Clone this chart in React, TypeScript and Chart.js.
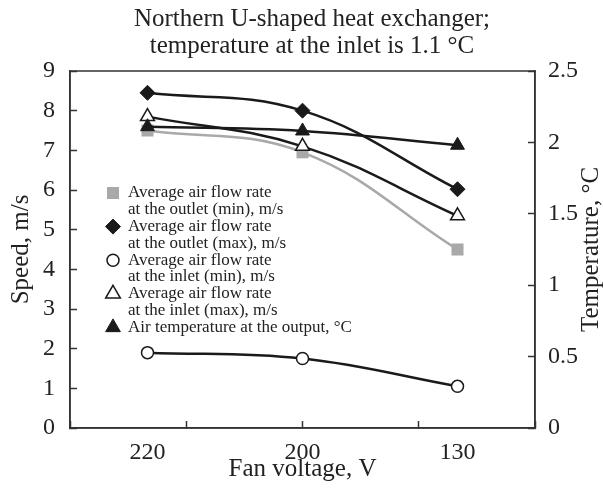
import React, { useEffect, useRef } from 'react';
import { Chart, registerables } from 'chart.js';
import { drawPoint } from 'chart.js/helpers';

Chart.register(...registerables);

// ---- data ----
const categories = ['220', '200', '130'];
const outletMin = [7.5, 6.95, 4.5];
const outletMax = [8.45, 8.0, 6.02];
const inletMin = [1.9, 1.75, 1.05];
const inletMax = [7.85, 7.1, 5.35];
const airTemp = [2.11, 2.08, 1.98];

const titleLines = ['Northern U-shaped heat exchanger;', 'temperature at the inlet is 1.1 °C'];
const xAxisTitle = 'Fan voltage, V';
const yLeftTitle = 'Speed, m/s';
const yRightTitle = 'Temperature, °C';
const xTickPositions = [0.5, 1, 1.25, 2, 2.75, 3, 3.5];

const labelOutletMin = ['Average air flow rate', 'at the outlet (min), m/s'];
const labelOutletMax = ['Average air flow rate', 'at the outlet (max), m/s'];
const labelInletMin = ['Average air flow rate', 'at the inlet (min), m/s'];
const labelInletMax = ['Average air flow rate', 'at the inlet (max), m/s'];
const labelAirTemp = ['Air temperature at the output, °C'];

const FONT = "'Liberation Serif', 'DejaVu Serif', serif";
const INK = '#222';
const AXIS = '#333';

const toPts = (arr: number[]) => arr.map((v, i) => ({ x: i + 1, y: v }));

const customPlugin = {
  id: 'custom',
  beforeDatasetsDraw(chart: any) {
    const { ctx, chartArea } = chart;
    ctx.save();
    ctx.strokeStyle = AXIS;
    ctx.lineWidth = 1.5;
    ctx.strokeRect(chartArea.left, chartArea.top, chartArea.right - chartArea.left, chartArea.bottom - chartArea.top);
    ctx.restore();
  },
  afterDraw(chart: any) {
    const { ctx, chartArea } = chart;
    ctx.save();
    ctx.fillStyle = INK;
    // title
    ctx.font = `25px ${FONT}`;
    ctx.textAlign = 'center';
    ctx.textBaseline = 'middle';
    titleLines.forEach((t, i) => ctx.fillText(t, 312, 19 + i * 27));
    // right axis title (reads bottom to top)
    ctx.save();
    ctx.translate(591, (chartArea.top + chartArea.bottom) / 2);
    ctx.rotate(-Math.PI / 2);
    ctx.fillText(yRightTitle, 0, 0);
    ctx.restore();
    // legend
    ctx.font = `17px ${FONT}`;
    ctx.textAlign = 'left';
    const mx = chartArea.left + 43;
    const tx = chartArea.left + 58;
    let y = chartArea.top + 122;
    const lineH = 16.8;
    chart.data.datasets.forEach((ds: any) => {
      ctx.save();
      ctx.fillStyle = ds.pointBackgroundColor;
      ctx.strokeStyle = ds.pointBorderColor;
      ctx.lineWidth = ds.pointBorderWidth;
      drawPoint(ctx, {
        pointStyle: ds.pointStyle,
        radius: ds.legendRadius,
        rotation: 0,
        borderWidth: ds.pointBorderWidth,
      } as any, mx, y);
      ctx.restore();
      ctx.fillStyle = INK;
      ds.legendText.forEach((line: string, i: number) => ctx.fillText(line, tx, y + i * lineH));
      y += ds.legendText.length * lineH;
    });
    ctx.restore();
  },
};

export default function App() {
  const ref = useRef<HTMLCanvasElement | null>(null);
  useEffect(() => {
    document.body.style.margin = '0';
    const black = '#1a1a1a';
    const gray = '#a9a9a9';
    const chart = new Chart(ref.current as HTMLCanvasElement, {
      type: 'line',
      data: {
        datasets: [
          {
            label: labelOutletMin.join(' '),
            legendText: labelOutletMin,
            data: toPts(outletMin),
            yAxisID: 'y',
            borderColor: gray,
            borderWidth: 2.5,
            tension: 0.4,
            pointStyle: 'rect',
            pointRadius: 8.5,
            legendRadius: 8.5,
            pointBackgroundColor: gray,
            pointBorderColor: gray,
            pointBorderWidth: 0,
            order: 5,
          },
          {
            label: labelOutletMax.join(' '),
            legendText: labelOutletMax,
            data: toPts(outletMax),
            yAxisID: 'y',
            borderColor: black,
            borderWidth: 2.5,
            tension: 0.4,
            pointStyle: 'rectRot',
            pointRadius: 7.5,
            legendRadius: 7.5,
            pointBackgroundColor: black,
            pointBorderColor: black,
            pointBorderWidth: 1,
            order: 2,
          },
          {
            label: labelInletMin.join(' '),
            legendText: labelInletMin,
            data: toPts(inletMin),
            yAxisID: 'y',
            borderColor: black,
            borderWidth: 2.5,
            tension: 0.4,
            pointStyle: 'circle',
            pointRadius: 6,
            legendRadius: 6,
            pointBackgroundColor: '#ffffff',
            pointBorderColor: black,
            pointBorderWidth: 1.5,
            order: 4,
          },
          {
            label: labelInletMax.join(' '),
            legendText: labelInletMax,
            data: toPts(inletMax),
            yAxisID: 'y',
            borderColor: black,
            borderWidth: 2.5,
            tension: 0.4,
            pointStyle: 'triangle',
            pointRadius: 8,
            legendRadius: 8.5,
            pointBackgroundColor: '#ffffff',
            pointBorderColor: black,
            pointBorderWidth: 1.5,
            order: 3,
          },
          {
            label: labelAirTemp.join(' '),
            legendText: labelAirTemp,
            data: toPts(airTemp),
            yAxisID: 'y1',
            borderColor: black,
            borderWidth: 2.5,
            tension: 0.4,
            pointStyle: 'triangle',
            pointRadius: 8,
            legendRadius: 8.5,
            pointBackgroundColor: black,
            pointBorderColor: black,
            pointBorderWidth: 1,
            order: 1,
          },
        ] as any,
      },
      options: {
        animation: false,
        responsive: true,
        maintainAspectRatio: false,
        layout: { padding: { top: 71, left: 0, right: 0, bottom: 0 } },
        plugins: {
          legend: { display: false },
          tooltip: { enabled: false },
          title: { display: false },
        },
        scales: {
          x: {
            type: 'linear',
            min: 0.5,
            max: 3.5,
            afterBuildTicks: (scale: any) => {
              scale.ticks = xTickPositions.map((v) => ({ value: v }));
            },
            afterFit: (scale: any) => {
              scale.height = 60;
            },
            ticks: {
              autoSkip: false,
              maxRotation: 0,
              padding: 17,
              color: INK,
              font: { family: FONT, size: 24 },
              callback: (v: any) => {
                const n = Number(v);
                return Number.isInteger(n) && categories[n - 1] !== undefined ? categories[n - 1] : '';
              },
            },
            grid: {
              drawOnChartArea: false,
              tickLength: -7,
              tickWidth: 1.5,
              tickColor: (c: any) =>
                c.tick && (c.tick.value === 1 || c.tick.value === 3) ? 'rgba(0,0,0,0)' : AXIS,
            },
            border: { display: true, color: AXIS, width: 1.5 },
            title: {
              display: true,
              text: xAxisTitle,
              color: INK,
              font: { family: FONT, size: 25 },
              padding: { top: 0, bottom: 4 },
            },
          },
          y: {
            type: 'linear',
            position: 'left',
            min: 0,
            max: 9,
            afterFit: (scale: any) => {
              scale.width = 70;
            },
            ticks: {
              stepSize: 1,
              padding: 22,
              color: INK,
              font: { family: FONT, size: 24 },
            },
            grid: { drawOnChartArea: false, tickLength: -7, tickWidth: 1.5, tickColor: AXIS },
            border: { display: true, color: AXIS, width: 1.5 },
            title: {
              display: true,
              text: yLeftTitle,
              color: INK,
              font: { family: FONT, size: 25 },
              padding: { top: 6, bottom: 0 },
            },
          },
          y1: {
            type: 'linear',
            position: 'right',
            min: 0,
            max: 2.5,
            afterFit: (scale: any) => {
              scale.width = 68;
            },
            ticks: {
              stepSize: 0.5,
              padding: 20,
              color: INK,
              font: { family: FONT, size: 24 },
              callback: (v: any) => `${Number(v)}`,
            },
            grid: { drawOnChartArea: false, tickLength: -7, tickWidth: 1.5, tickColor: AXIS },
            border: { display: true, color: AXIS, width: 1.5 },
            title: { display: false },
          },
        },
      } as any,
      plugins: [customPlugin],
    });
    return () => chart.destroy();
  }, []);
  return (
    <div style={{ position: 'relative', width: 603, height: 488 }}>
      <canvas ref={ref} />
    </div>
  );
}
